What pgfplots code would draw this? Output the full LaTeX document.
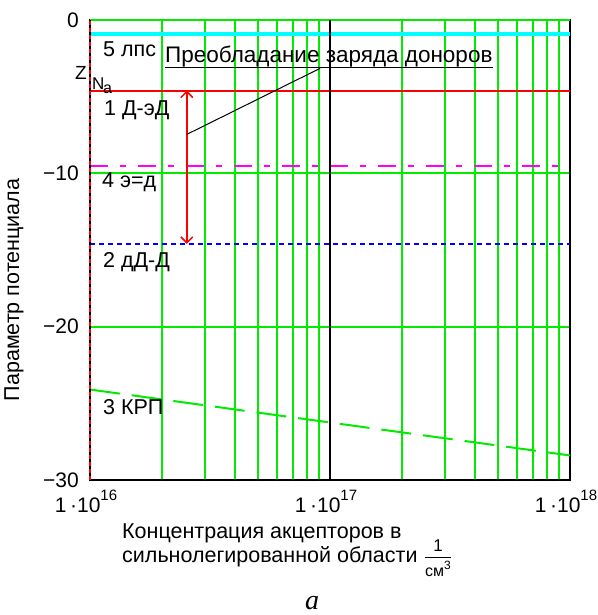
\documentclass[border=0pt]{standalone}
\usepackage{pgfplots}
\pgfplotsset{compat=1.18}
\usepackage{fontspec}
\setmainfont{Liberation Sans}
\newfontfamily\capserif{Liberation Serif}
\usetikzlibrary{arrows.meta}
\definecolor{gridgreen}{RGB}{0,235,0}
\definecolor{mcyan}{RGB}{0,255,255}
\definecolor{mmag}{RGB}{255,0,255}
\begin{document}
\fontsize{21.5}{25}\selectfont
\begin{tikzpicture}[x=1pt,y=1pt]
\useasboundingbox (-90,-135) rectangle (507,480);
\begin{axis}[
  at={(0,0)}, anchor=south west,
  scale only axis, width=480pt, height=460pt,
  xmode=log, xmin=1e16, xmax=1e18, ymin=-30, ymax=0,
  xtick={1e16,1e17,1e18},
  xticklabels={1\,·10\raisebox{0.55em}{\fontsize{15}{15}\selectfont 16},1\,·10\raisebox{0.55em}{\fontsize{15}{15}\selectfont 17},1\,·10\raisebox{0.55em}{\fontsize{15}{15}\selectfont 18}},
  minor xtick={2e16,3e16,4e16,5e16,6e16,7e16,8e16,9e16,2e17,3e17,4e17,5e17,6e17,7e17,8e17,9e17},
  ytick={-30,-20,-10,0},
  yticklabels={−30,−20,−10,0},
  xminorgrids=true, ymajorgrids=true, xmajorgrids=false,
  grid style={gridgreen, line width=2pt},
  minor grid style={gridgreen, line width=2pt},
  major tick length=0pt, minor tick length=0pt,
  tick style={draw=none},
  axis line style={black, line width=1.5pt},
  xticklabel style={font=\fontsize{21}{24}\selectfont, yshift=-3pt, xshift=-4pt},
  yticklabel style={font=\fontsize{21}{24}\selectfont, xshift=-4pt},
  clip=false,
]
\addplot[mcyan, line width=3.5pt] coordinates {(1e16,-0.9) (1e18,-0.9)};
\addplot[gridgreen, line width=2pt] coordinates {(1e16,0) (1e18,0)};
\addplot[red, line width=2pt] coordinates {(1e16,-4.6) (1e18,-4.6)};
\addplot[mmag, line width=2pt, dash pattern=on 18pt off 12pt on 6pt off 12pt] coordinates {(1e16,-9.5) (1e18,-9.5)};
\addplot[blue, line width=2pt, dash pattern=on 5pt off 4pt] coordinates {(1e16,-14.6) (1e18,-14.6)};
\addplot[gridgreen, line width=2pt, dash pattern=on 30pt off 12pt] coordinates {(1e16,-24.1) (1e18,-28.4)};
\addplot[black, line width=1.5pt] coordinates {(1e17,-30) (1e17,0)};
\addplot[black, line width=1.5pt] coordinates {(1e16,-30) (1e16,0)};
\addplot[red, line width=1.5pt, dash pattern=on 4pt off 3pt] coordinates {(1e16,-30) (1e16,0)};
\addplot[red, line width=1.5pt, {Straight Barb[length=6pt,width=12pt]}-{Straight Barb[length=6pt,width=12pt]}] coordinates {(2.53e16,-4.6) (2.53e16,-14.6)};
\addplot[black, line width=1pt] coordinates {(2.53e16,-7.46) (9.1e16,-3.15)};
\end{axis}
% annotations
\node[anchor=west, inner sep=0] at (13,431) {5 лпс};
\node[anchor=base west, inner sep=0, font=\fontsize{22.5}{26}\selectfont] at (75,417) {Преобладание заряда доноров};
\draw[black, line width=1pt] (75,412) -- (403,412);
\node[anchor=base west, inner sep=0, font=\fontsize{19}{19}\selectfont] at (-15,400) {Z};
\node[anchor=base west, inner sep=0, font=\fontsize{17}{17}\selectfont] at (2,390) {N};
\node[anchor=base west, inner sep=0, font=\fontsize{16}{16}\selectfont] at (13,386) {a};
\node[anchor=west, inner sep=0] at (14,370) {1 Д-эД};
\node[anchor=west, inner sep=0] at (12,298) {4 э=д};
\node[anchor=west, inner sep=0] at (13,218) {2 дД-Д};
\node[anchor=west, inner sep=0] at (13,73) {3 КРП};
\node[rotate=90, inner sep=0] at (-76,190) {Параметр потенциала};
\node[anchor=west, inner sep=0] at (32,-53) {Концентрация акцепторов в};
\node[anchor=west, inner sep=0] at (32,-77) {сильнолегированной области};
\node[inner sep=0, font=\fontsize{17}{17}\selectfont] at (348,-66) {1};
\draw[black, line width=0.8pt] (335,-77) -- (361,-77);
\node[inner sep=0, font=\fontsize{16}{16}\selectfont] at (348,-89) {см\raisebox{0.45em}{\fontsize{12}{12}\selectfont 3}};
\node[inner sep=0, font=\capserif\itshape\fontsize{28}{28}\selectfont] at (222,-123) {a};
\end{tikzpicture}
\end{document}
